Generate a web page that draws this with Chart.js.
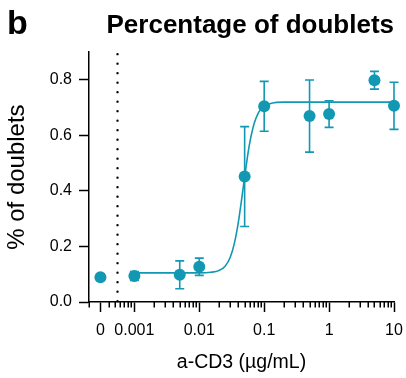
<!DOCTYPE html>
<html>
<head>
<meta charset="utf-8">
<script src="https://cdn.jsdelivr.net/npm/chart.js@4/dist/chart.umd.min.js"></script>
<style>
  body { margin: 0; background: #fff; }
</style>
</head>
<body>
<canvas id="chart" width="406" height="378"></canvas>
<script>
const teal = "rgb(18, 152, 178)";
const fontFamily = "'Liberation Sans', Arial, sans-serif";

// doses in ug/mL; the "0" control is drawn at 0.0003 on the broken log axis
const doseLabels = ["0", "0.001", "0.005", "0.01", "0.05", "0.1", "0.5", "1", "5", "10"];
const doses = [0.0003, 0.001, 0.005, 0.01, 0.05, 0.1, 0.5, 1, 5, 10];
const doubletMeans = [0.089, 0.094, 0.098, 0.127, 0.452, 0.705, 0.67, 0.677, 0.799, 0.707];
const doubletErrors = [0, 0.016, 0.05, 0.031, 0.18, 0.09, 0.13, 0.048, 0.032, 0.085];

// fitted curve
const fitDoses = [0.001, 0.005, 0.01, 0.015, 0.02, 0.025, 0.03, 0.035, 0.04, 0.045, 0.05,
  0.055, 0.06, 0.07, 0.08, 0.09, 0.1, 0.13, 0.2, 0.5, 1, 10];
const fitValues = [0.105, 0.105, 0.105, 0.107, 0.113, 0.129, 0.161, 0.215, 0.288, 0.371, 0.452,
  0.52, 0.574, 0.643, 0.678, 0.696, 0.705, 0.716, 0.72, 0.72, 0.72, 0.72];

const breakDose = 0.00055;
const xMajorTicks = [0.0003, 0.001, 0.01, 0.1, 1, 10];
const xMajorLabels = ["0", "0.001", "0.01", "0.1", "1", "10"];
const yTicks = [0, 0.2, 0.4, 0.6, 0.8];
const yTickLabels = ["0.0", "0.2", "0.4", "0.6", "0.8"];

// minor log ticks 2..9 per decade
const xMinorTicks = [];
for (let e = -4; e < 1; e++) {
  for (let m = 2; m <= 9; m++) {
    const v = m * Math.pow(10, e);
    if (v >= 0.0002 && v < 10 && !xMajorTicks.some(t => Math.abs(t - v) < v * 1e-6)) xMinorTicks.push(v);
  }
}

const errorBars = {
  id: "errorBars",
  afterDatasetsDraw(chart) {
    const { ctx, scales: { x, y } } = chart;
    ctx.save();
    ctx.strokeStyle = teal;
    ctx.lineWidth = 1.6;
    doses.forEach((d, i) => {
      const err = doubletErrors[i];
      if (!err) return;
      const px = x.getPixelForValue(d);
      const top = y.getPixelForValue(doubletMeans[i] + err);
      const bot = y.getPixelForValue(doubletMeans[i] - err);
      ctx.beginPath();
      ctx.moveTo(px, top); ctx.lineTo(px, bot);
      ctx.moveTo(px - 4.5, top); ctx.lineTo(px + 4.5, top);
      ctx.moveTo(px - 4.5, bot); ctx.lineTo(px + 4.5, bot);
      ctx.stroke();
    });
    ctx.restore();
  }
};

const minorTicks = {
  id: "minorTicks",
  afterDraw(chart) {
    const { ctx, scales: { x } } = chart;
    ctx.save();
    ctx.strokeStyle = "#000";
    ctx.lineWidth = 1.5;
    ctx.beginPath();
    xMinorTicks.forEach(v => {
      const px = Math.round(x.getPixelForValue(v)) + 0.25;
      ctx.moveTo(px, x.top);
      ctx.lineTo(px, x.top + 5.5);
    });
    ctx.stroke();
    // panel letter
    ctx.fillStyle = "#000";
    ctx.font = "bold 34px " + fontFamily;
    ctx.textBaseline = "alphabetic";
    ctx.fillText("b", 7, 34);
    ctx.restore();
  }
};

const config = {
  type: "scatter",
  data: {
    datasets: [
      {
        label: "fit",
        data: fitDoses.map((d, i) => ({ x: d, y: fitValues[i] })),
        showLine: true,
        borderColor: teal,
        borderWidth: 1.6,
        pointRadius: 0,
        cubicInterpolationMode: "monotone",
        clip: false,
      },
      {
        label: "% of doublets",
        data: doses.map((d, i) => ({ x: d, y: doubletMeans[i] })),
        backgroundColor: teal,
        borderWidth: 0,
        pointRadius: 6,
        clip: false,
      },
      {
        label: "break",
        data: [{ x: breakDose, y: 0.003 }, { x: breakDose, y: 0.9 }],
        showLine: true,
        borderColor: "#000",
        borderWidth: 2.4,
        borderDash: [0, 9.5],
        borderCapStyle: "round",
        pointRadius: 0,
        clip: false,
      },
    ],
  },
  options: {
    responsive: false,
    animation: false,
    layout: { autoPadding: false, padding: { left: 0, right: 12, top: 0, bottom: 0 } },
    plugins: {
      legend: { display: false },
      tooltip: { enabled: false },
      title: {
        display: true,
        text: "Percentage of doublets",
        align: "end",
        color: "#000",
        font: { family: fontFamily, size: 26, weight: "bold" },
        padding: { top: 10, bottom: 11 },
      },
    },
    scales: {
      x: {
        type: "logarithmic",
        min: 0.0002,
        max: 10,
        afterBuildTicks: (scale) => {
          scale.ticks = xMajorTicks.map(v => ({ value: v, major: true }));
        },
        afterFit: (scale) => {
          scale.height = 76;
          scale.paddingLeft = 0;
          scale.paddingRight = 0;
        },
        border: { color: "#000", width: 1.5 },
        grid: { drawOnChartArea: false, tickLength: 10, tickWidth: 1.5, tickColor: "#000" },
        ticks: {
          autoSkip: false,
          maxRotation: 0,
          padding: 9,
          color: "#000",
          font: { family: fontFamily, size: 16 },
          callback: (v) => {
            const i = xMajorTicks.indexOf(v);
            return i >= 0 ? xMajorLabels[i] : "";
          },
        },
        title: {
          display: true,
          text: "a-CD3 (µg/mL)",
          color: "#000",
          font: { family: fontFamily, size: 19.5 },
          padding: { top: 0, bottom: 4 },
        },
      },
      y: {
        min: 0,
        max: 0.9,
        afterBuildTicks: (scale) => {
          scale.ticks = yTicks.map(v => ({ value: v }));
        },
        afterFit: (scale) => {
          scale.width = 89;
          scale.paddingTop = 0;
          scale.paddingBottom = 0;
        },
        border: { color: "#000", width: 1.5 },
        grid: { drawOnChartArea: false, tickLength: 10, tickWidth: 1.5, tickColor: "#000" },
        ticks: {
          padding: 7,
          color: "#000",
          font: { family: fontFamily, size: 16 },
          callback: (v) => {
            const i = yTicks.findIndex(t => Math.abs(t - v) < 1e-9);
            return i >= 0 ? yTickLabels[i] : "";
          },
        },
        title: {
          display: true,
          text: "% of doublets",
          color: "#000",
          font: { family: fontFamily, size: 24 },
          padding: { top: 3, bottom: 0 },
        },
      },
    },
  },
  plugins: [errorBars, minorTicks],
};

window.onload = function () {
  window.myChart = new Chart(document.getElementById("chart"), config);
};
</script>
</body>
</html>
